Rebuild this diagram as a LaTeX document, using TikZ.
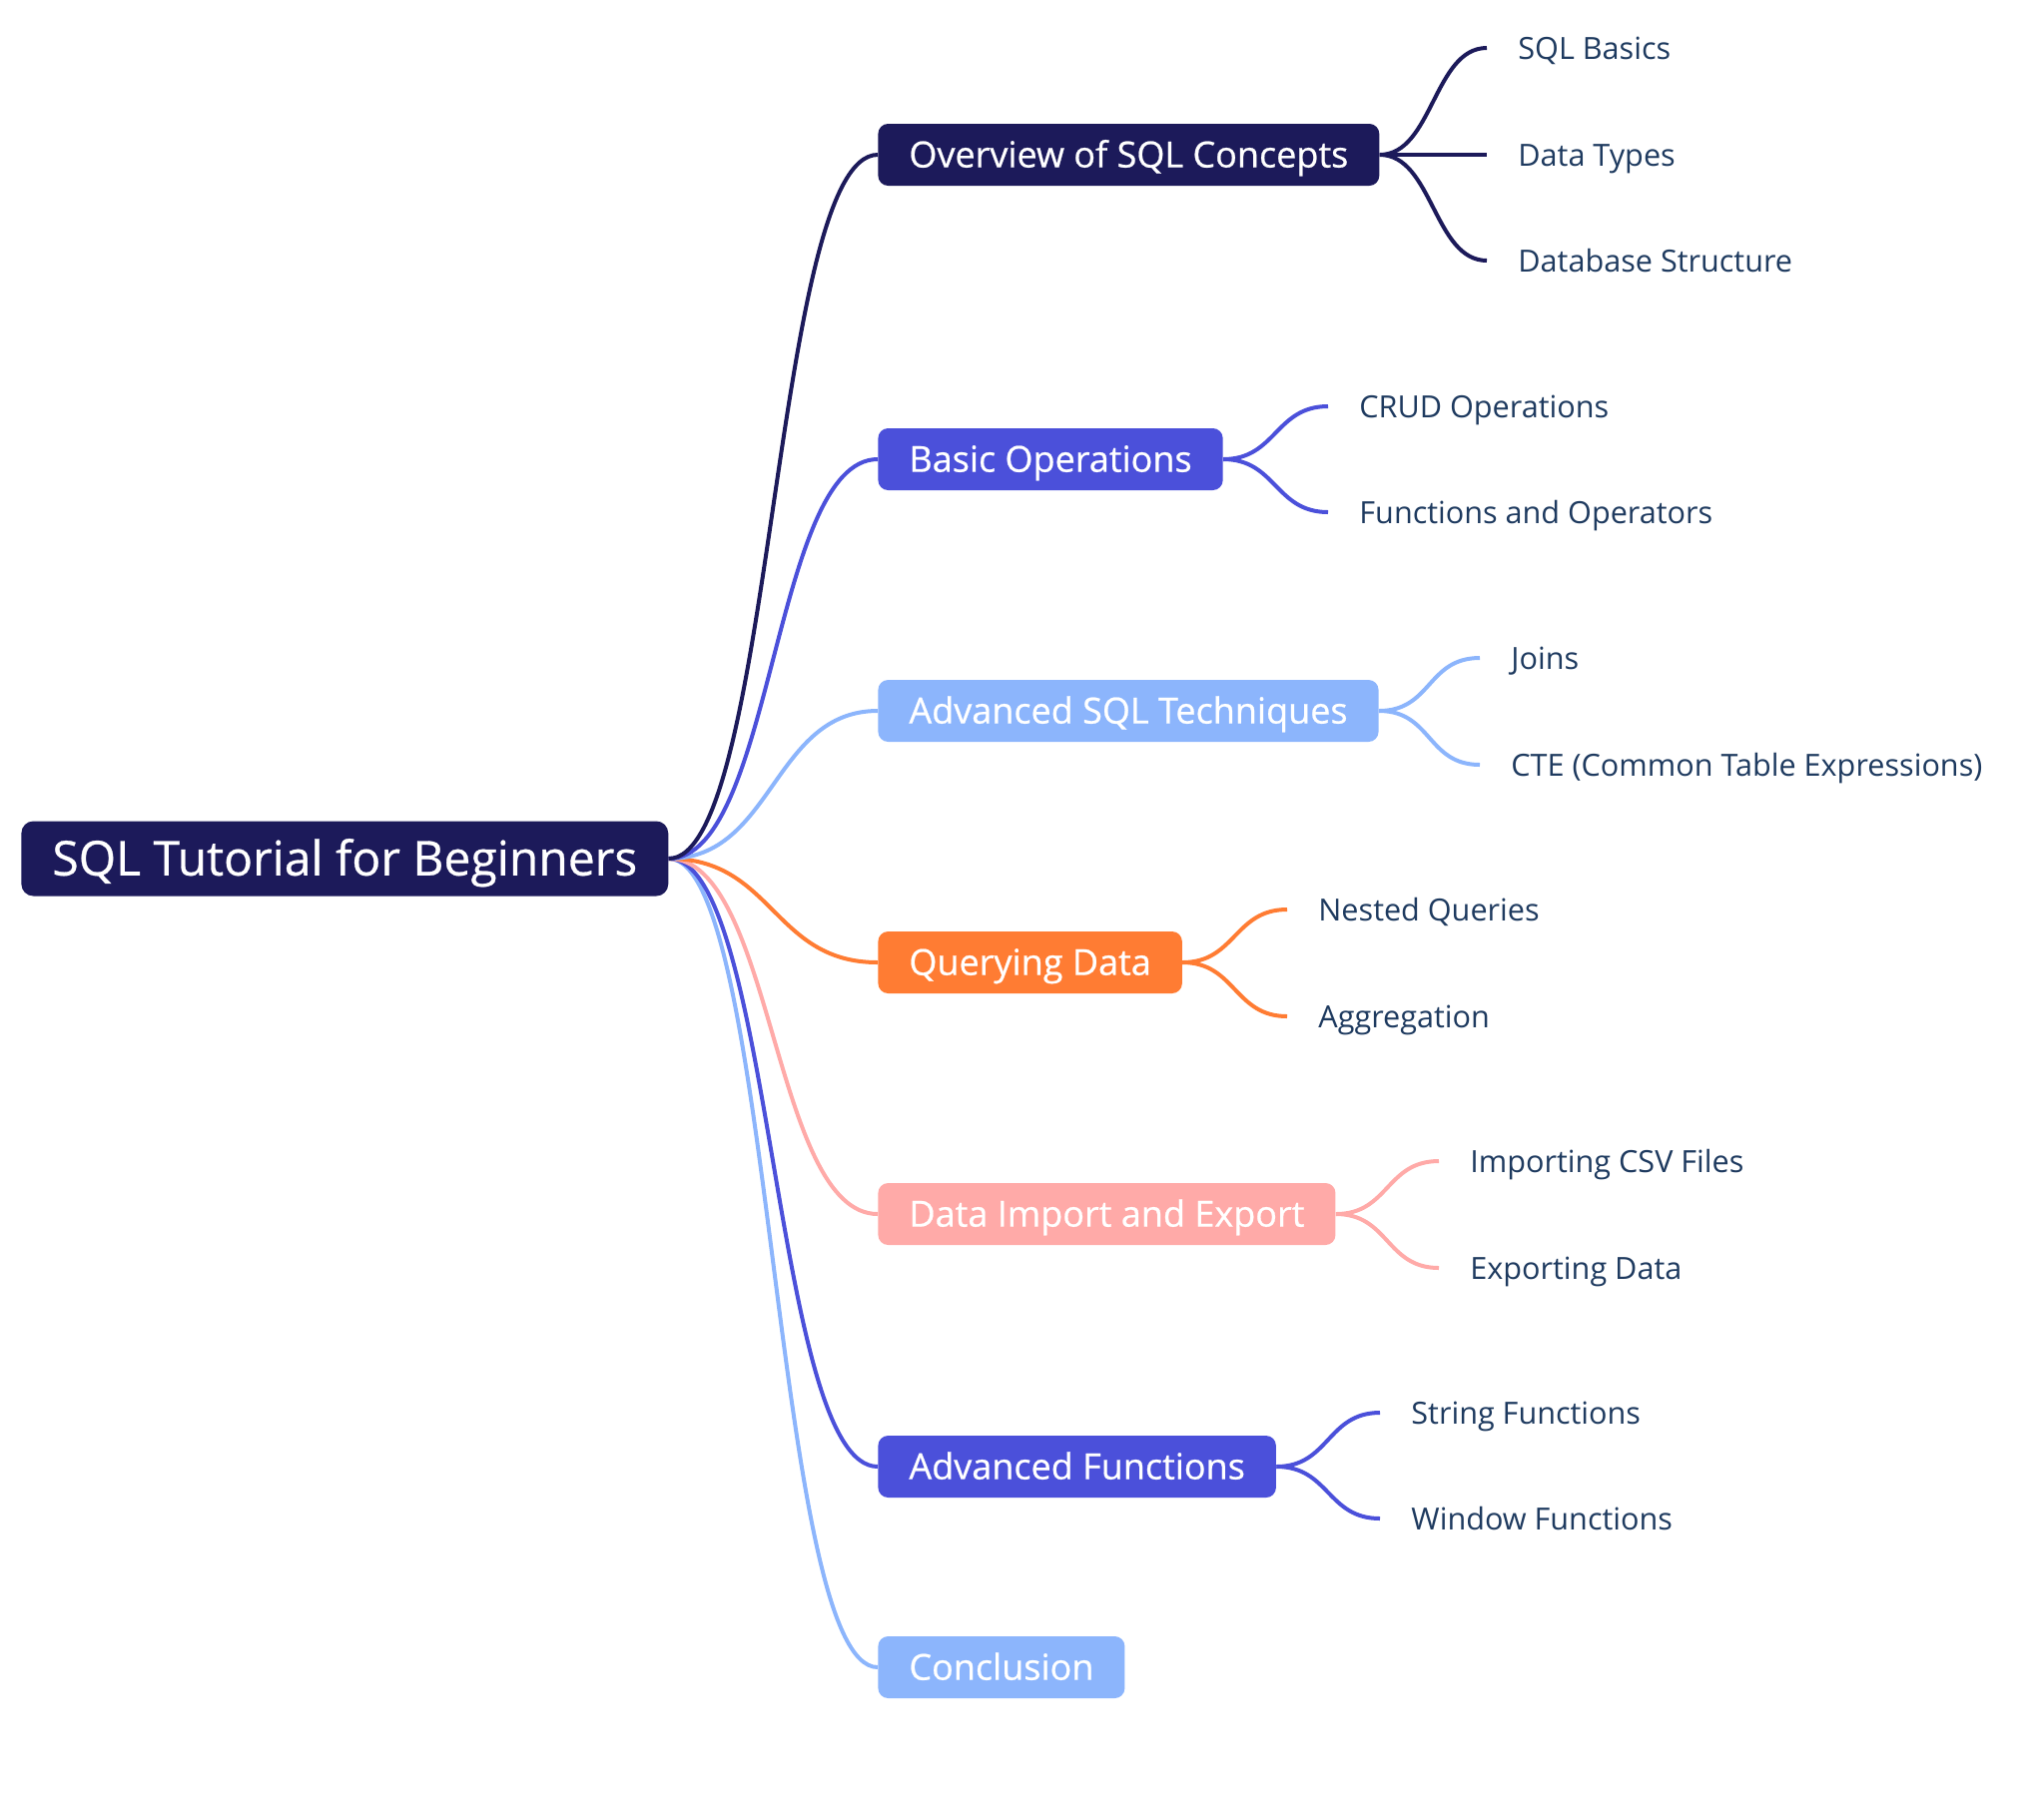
\documentclass[tikz,border=0pt]{standalone}
\usepackage{fontspec}
\setmainfont{Open Sans}
\newfontfamily\boxfont[FakeBold=0.6]{Open Sans}
\usetikzlibrary{backgrounds}
\definecolor{navyc}{HTML}{1C1A5A}
\definecolor{bluec}{HTML}{4B50DA}
\definecolor{lbluec}{HTML}{8CB5FC}
\definecolor{orangec}{HTML}{FF7C33}
\definecolor{pinkc}{HTML}{FFAAA8}
\definecolor{leafc}{HTML}{1E3A5F}
\begin{document}
\begin{tikzpicture}[x=0.5pt,y=-0.5pt,
  rootbox/.style={rounded corners=6pt, fill=navyc, text=white, font=\boxfont\fontsize{24}{28}\selectfont, inner xsep=15.5pt, inner ysep=0pt, text height=17.5pt, text depth=0.7pt, minimum height=37.5pt, anchor=west},
  l1/.style={rounded corners=5pt, text=white, font=\boxfont\fontsize{18}{22}\selectfont, inner xsep=15.5pt, inner ysep=0pt, text height=13.1pt, text depth=0.5pt, minimum height=31pt, anchor=west},
  leaf/.style={text=leafc, font=\fontsize{15.3}{18}\selectfont, inner xsep=15.5pt, inner ysep=0pt, text height=11pt, text depth=0pt, anchor=west},
  conn/.style={line width=2pt},
]
\useasboundingbox (0,0) rectangle (2038,1822);
\node[rootbox] (root) at (21,860) {SQL Tutorial for Beginners};
\node[l1, fill=navyc] (ov) at (879,155) {Overview of SQL Concepts};
\node[l1, fill=bluec] (bo) at (879,460) {Basic Operations};
\node[l1, fill=lbluec] (as) at (879,712) {Advanced SQL Techniques};
\node[l1, fill=orangec] (qd) at (879,964) {Querying Data};
\node[l1, fill=pinkc] (di) at (879,1216) {Data Import and Export};
\node[l1, fill=bluec] (af) at (879,1469) {Advanced Functions};
\node[l1, fill=lbluec] (co) at (879,1670) {Conclusion};

\node[leaf] (ov1) at (1489,48) {SQL Basics};
\node[leaf] (ov2) at (1489,155) {Data Types};
\node[leaf] (ov3) at (1489,261) {Database Structure};
\node[leaf] (bo1) at (1330,407) {CRUD Operations};
\node[leaf] (bo2) at (1330,513) {Functions and Operators};
\node[leaf] (as1) at (1482,659) {Joins};
\node[leaf] (as2) at (1482,766) {CTE (Common Table Expressions)};
\node[leaf] (qd1) at (1289,911) {Nested Queries};
\node[leaf] (qd2) at (1289,1018) {Aggregation};
\node[leaf] (di1) at (1441,1163) {Importing CSV Files};
\node[leaf] (di2) at (1441,1270) {Exporting Data};
\node[leaf] (af1) at (1382,1415) {String Functions};
\node[leaf] (af2) at (1382,1521) {Window Functions};

\begin{scope}[on background layer]
\draw[conn, lbluec] (root.east) .. controls +(105,0) and +(-105,0) .. (co.west);
\draw[conn, bluec] (root.east) .. controls +(105,0) and +(-105,0) .. (af.west);
\draw[conn, pinkc] (root.east) .. controls +(105,0) and +(-105,0) .. (di.west);
\draw[conn, orangec] (root.east) .. controls +(105,0) and +(-105,0) .. (qd.west);
\draw[conn, lbluec] (root.east) .. controls +(105,0) and +(-105,0) .. (as.west);
\draw[conn, bluec] (root.east) .. controls +(105,0) and +(-105,0) .. (bo.west);
\draw[conn, navyc] (root.east) .. controls +(105,0) and +(-105,0) .. (ov.west);

\draw[conn, navyc] (ov.east) .. controls +(53,0) and +(-53,0) .. (ov1.west);
\draw[conn, navyc] (ov.east) -- (ov2.west);
\draw[conn, navyc] (ov.east) .. controls +(53,0) and +(-53,0) .. (ov3.west);
\draw[conn, bluec] (bo.east) .. controls +(53,0) and +(-53,0) .. (bo1.west);
\draw[conn, bluec] (bo.east) .. controls +(53,0) and +(-53,0) .. (bo2.west);
\draw[conn, lbluec] (as.east) .. controls +(53,0) and +(-53,0) .. (as1.west);
\draw[conn, lbluec] (as.east) .. controls +(53,0) and +(-53,0) .. (as2.west);
\draw[conn, orangec] (qd.east) .. controls +(53,0) and +(-53,0) .. (qd1.west);
\draw[conn, orangec] (qd.east) .. controls +(53,0) and +(-53,0) .. (qd2.west);
\draw[conn, pinkc] (di.east) .. controls +(53,0) and +(-53,0) .. (di1.west);
\draw[conn, pinkc] (di.east) .. controls +(53,0) and +(-53,0) .. (di2.west);
\draw[conn, bluec] (af.east) .. controls +(53,0) and +(-53,0) .. (af1.west);
\draw[conn, bluec] (af.east) .. controls +(53,0) and +(-53,0) .. (af2.west);
\end{scope}
\end{tikzpicture}
\end{document}
